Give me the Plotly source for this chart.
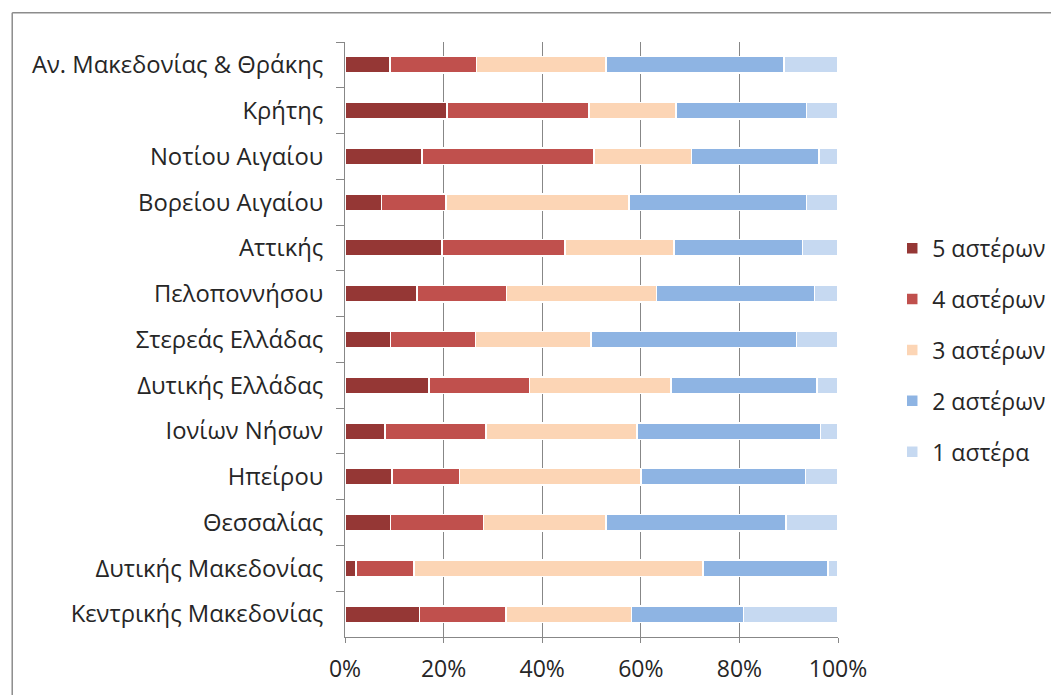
import plotly.graph_objects as go

regions = [
    "Αν. Μακεδονίας & Θράκης", "Κρήτης", "Νοτίου Αιγαίου", "Βορείου Αιγαίου",
    "Αττικής", "Πελοποννήσου", "Στερεάς Ελλάδας", "Δυτικής Ελλάδας",
    "Ιονίων Νήσων", "Ηπείρου", "Θεσσαλίας", "Δυτικής Μακεδονίας",
    "Κεντρικής Μακεδονίας",
]

star5 = [9.1, 20.7, 15.6, 7.4, 19.7, 14.6, 9.2, 17.0, 8.1, 9.5, 9.2, 2.2, 15.1]
star4 = [17.6, 28.8, 34.9, 13.1, 24.9, 18.2, 17.3, 20.4, 20.5, 13.7, 18.9, 11.8, 17.6]
star3 = [26.2, 17.6, 19.8, 37.1, 22.1, 30.4, 23.4, 28.7, 30.6, 36.8, 24.8, 58.6, 25.4]
star2 = [36.1, 26.5, 25.8, 36.0, 26.1, 32.0, 41.7, 29.6, 37.3, 33.4, 36.6, 25.4, 22.7]
star1 = [11.0, 6.4, 3.9, 6.4, 7.2, 4.8, 8.4, 4.3, 3.5, 6.6, 10.5, 2.0, 19.2]

series = [
    ("5 αστέρων", star5, "#953735"),
    ("4 αστέρων", star4, "#C0504D"),
    ("3 αστέρων", star3, "#FCD5B5"),
    ("2 αστέρων", star2, "#8EB4E3"),
    ("1 αστέρα", star1, "#C6D9F1"),
]

FONT = "Open Sans"

fig = go.Figure()
for i, (name, vals, col) in enumerate(series):
    fig.add_trace(go.Bar(
        y=regions, x=vals, name=name, orientation="h",
        marker=dict(color=col, line=dict(color="white", width=1.5)),
        legendgroup=str(i),
    ))

fig.update_layout(
    barmode="stack",
    barnorm="percent",
    bargap=0.64,
    width=1059, height=695,
    margin=dict(l=337, r=229, t=34, b=66),
    paper_bgcolor="white", plot_bgcolor="white",
    font=dict(family=FONT, size=23, color="#262626"),
    legend=dict(
        x=1.11, y=0.482, xanchor="left", yanchor="middle",
        traceorder="grouped", tracegroupgap=18,
        font=dict(family=FONT, size=23, color="#262626"),
        itemwidth=30,
    ),
    xaxis=dict(
        range=[0, 100], tickvals=[0, 20, 40, 60, 80, 100],
        ticktext=["0%", "20%", "40%", "60%", "80%", "100%"],
        showgrid=True, gridcolor="#878787", gridwidth=1,
        showline=True, linecolor="#878787", linewidth=1,
        ticks="outside", ticklen=5, tickcolor="#878787",
        zeroline=False, fixedrange=True,
        tickfont=dict(size=23), ticklabelstandoff=6,
    ),
    yaxis=dict(
        categoryorder="array", categoryarray=regions,
        autorange="reversed",
        showline=True, linecolor="#878787", linewidth=1,
        ticks="outside", ticklen=8, tickcolor="#878787",
        tickson="boundaries", ticklabelstandoff=16,
        tickfont=dict(size=23.8),
    ),
    shapes=[
        dict(type="line", xref="paper", yref="paper",
             x0=-0.675, x1=1.5, y0=1.049, y1=1.049,
             line=dict(color="#8c8c8c", width=1.5)),
        dict(type="line", xref="paper", yref="paper",
             x0=-0.675, x1=-0.675, y0=1.049, y1=-0.2,
             line=dict(color="#8c8c8c", width=1.5)),
    ],
)

fig.write_html("out.html")
